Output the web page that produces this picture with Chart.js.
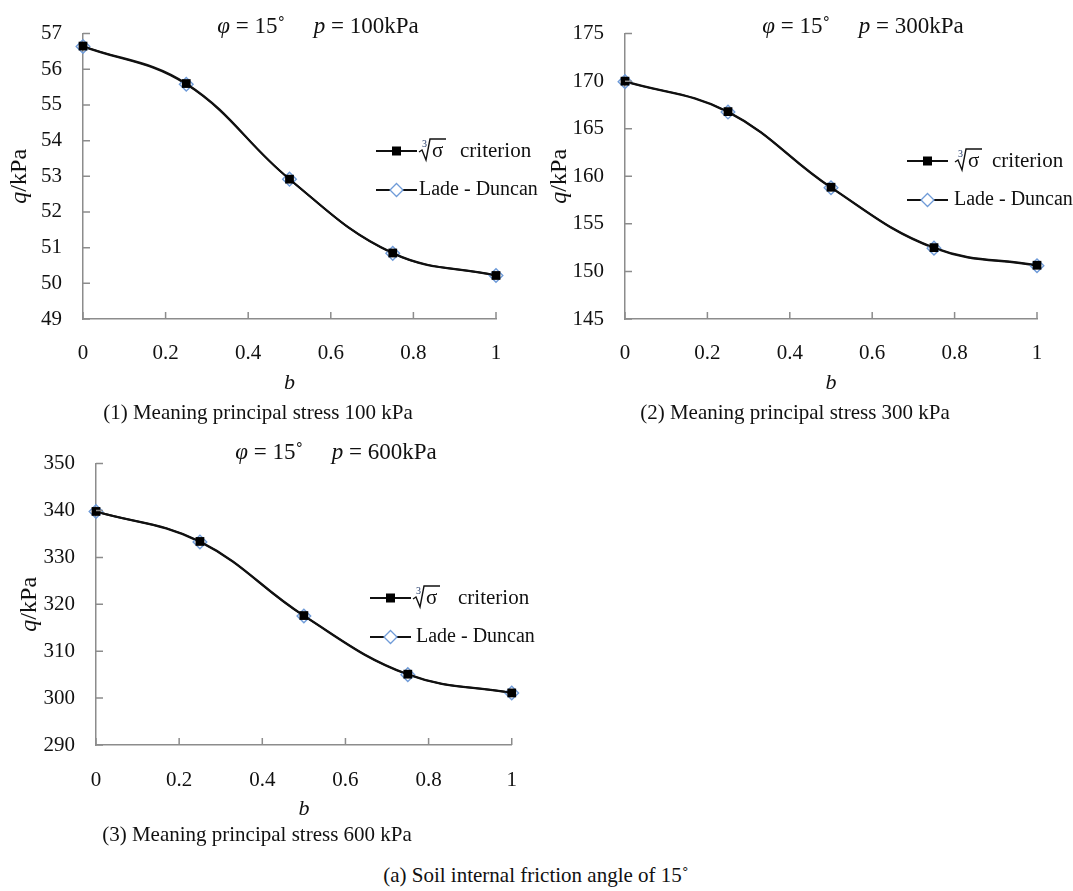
<!DOCTYPE html>
<html>
<head>
<meta charset="utf-8">
<script src="https://cdn.jsdelivr.net/npm/chart.js@4.4.0/dist/chart.umd.min.js"></script>
<style>
  body { margin: 0; background: #fff; width: 1073px; height: 891px; position: relative; overflow: hidden; font-family: "Liberation Serif", serif; color: #111; }
  canvas { position: absolute; }
  .cap { position: absolute; font-size: 21px; white-space: nowrap; transform: translate(-50%, -50%); }
</style>
</head>
<body>
<canvas id="chart100" width="540" height="430" style="left:0;top:0"></canvas>
<canvas id="chart300" width="533" height="430" style="left:540px;top:0"></canvas>
<canvas id="chart600" width="540" height="410" style="left:0;top:430px"></canvas>
<div class="cap" id="cap100" style="left:258px;top:412px"></div>
<div class="cap" id="cap300" style="left:795px;top:412px"></div>
<div class="cap" id="cap600" style="left:257px;top:834px"></div>
<div class="cap" id="capAll" style="left:536px;top:875px"></div>

<script>
// b values (intermediate principal stress parameter)
const bValues = [0, 0.25, 0.5, 0.75, 1];
const xTickValues = [0, 0.2, 0.4, 0.6, 0.8, 1];
const xTickLabels = ['0', '0.2', '0.4', '0.6', '0.8', '1'];

// q (kPa) for each mean principal stress
const q100Criterion = [56.65, 55.6, 52.92, 50.85, 50.22];
const q100LadeDuncan = [56.64, 55.58, 52.92, 50.84, 50.22];
const q300Criterion = [170.0, 166.8, 158.85, 152.5, 150.65];
const q300LadeDuncan = [169.95, 166.75, 158.8, 152.45, 150.6];
const q600Criterion = [339.8, 333.4, 317.6, 305.1, 301.1];
const q600LadeDuncan = [339.8, 333.3, 317.5, 305.0, 301.1];

const yTicks100 = [49, 50, 51, 52, 53, 54, 55, 56, 57];
const yTicks300 = [145, 150, 155, 160, 165, 170, 175];
const yTicks600 = [290, 300, 310, 320, 330, 340, 350];

const seriesNames = ['criterion', 'Lade - Duncan'];
const frictionAngle = 15;
const captions = {
  cap100: '(1) Meaning principal stress 100 kPa',
  cap300: '(2) Meaning principal stress 300 kPa',
  cap600: '(3) Meaning principal stress 600 kPa',
  capAll: '(a) Soil internal friction angle of 15\u02DA'
};

const AXIS_GREY = '#8c8c8c';
const DIAMOND_BLUE = '#6f9bd8';
const SERIF = '"Liberation Serif", "Times New Roman", serif';

for (const id in captions) document.getElementById(id).textContent = captions[id];

// draw text made of runs with different styles, centred or left aligned
function drawRuns(ctx, runs, x, y, size, align) {
  let total = 0;
  runs.forEach(r => {
    ctx.font = (r.italic ? 'italic ' : '') + size + 'px ' + SERIF;
    r.w = ctx.measureText(r.t).width;
    total += r.w;
  });
  let cx = align === 'center' ? x - total / 2 : x;
  ctx.textAlign = 'left';
  ctx.textBaseline = 'middle';
  runs.forEach(r => {
    ctx.font = (r.italic ? 'italic ' : '') + size + 'px ' + SERIF;
    ctx.fillText(r.t, cx, y);
    cx += r.w;
  });
}

function drawCubeRoot(ctx, x, cy) {
  ctx.save();
  ctx.strokeStyle = '#111';
  ctx.lineWidth = 1.4;
  ctx.beginPath();
  ctx.moveTo(x, cy + 1);
  ctx.lineTo(x + 3, cy - 1);
  ctx.lineTo(x + 7, cy + 9);
  ctx.lineTo(x + 11, cy - 12);
  ctx.lineTo(x + 27, cy - 12);
  ctx.stroke();
  ctx.fillStyle = '#1d3566';
  ctx.font = '10px ' + SERIF;
  ctx.textAlign = 'left';
  ctx.textBaseline = 'alphabetic';
  ctx.fillText('3', x + 3, cy - 4);
  ctx.fillStyle = '#111';
  ctx.font = '21px ' + SERIF;
  ctx.fillText('\u03C3', x + 13, cy + 6);
  ctx.restore();
}

const figureText = {
  id: 'figureText',
  afterDraw(chart, args, opts) {
    const ctx = chart.ctx;
    const { left, right, top, bottom } = chart.chartArea;
    const xs = chart.scales.x, ys = chart.scales.y;
    ctx.save();

    // tick marks point into the plot
    ctx.strokeStyle = AXIS_GREY;
    ctx.lineWidth = 1.5;
    ctx.beginPath();
    xs.ticks.forEach(t => {
      const px = xs.getPixelForValue(t.value);
      ctx.moveTo(px, bottom);
      ctx.lineTo(px, bottom - 7);
    });
    ys.ticks.forEach(t => {
      const py = ys.getPixelForValue(t.value);
      ctx.moveTo(left, py);
      ctx.lineTo(left + 7, py);
    });
    ctx.stroke();

    ctx.fillStyle = '#111';
    // header: friction angle and mean stress
    drawRuns(ctx, [
      { t: '\u03C6', italic: true },
      { t: ' = ' + frictionAngle + '\u02DA     ' },
      { t: 'p', italic: true },
      { t: ' = ' + opts.pressure + 'kPa' }
    ], opts.headerX, top - opts.headerGap, 23, 'center');

    // axis titles
    drawRuns(ctx, [{ t: 'b', italic: true }], (left + right) / 2, bottom + opts.bGap, 22, 'center');
    ctx.save();
    ctx.translate(opts.qX, (top + bottom) / 2);
    ctx.rotate(-Math.PI / 2);
    drawRuns(ctx, [{ t: 'q', italic: true }, { t: '/kPa' }], 0, 0, 24, 'center');
    ctx.restore();

    // legend
    const lg = opts.legend;
    ctx.strokeStyle = '#111';
    ctx.lineWidth = 1.8;
    [lg.row1, lg.row2].forEach(y => {
      ctx.beginPath();
      ctx.moveTo(lg.x0, y);
      ctx.lineTo(lg.x1, y);
      ctx.stroke();
    });
    const mx = (lg.x0 + lg.x1) / 2;
    ctx.fillStyle = '#000';
    ctx.fillRect(mx - 4.5, lg.row1 - 4.5, 9, 9);
    ctx.strokeStyle = DIAMOND_BLUE;
    ctx.lineWidth = 1.3;
    ctx.fillStyle = '#fff';
    ctx.beginPath();
    ctx.moveTo(mx, lg.row2 - 6.5);
    ctx.lineTo(mx + 6.5, lg.row2);
    ctx.lineTo(mx, lg.row2 + 6.5);
    ctx.lineTo(mx - 6.5, lg.row2);
    ctx.closePath();
    ctx.fill();
    ctx.stroke();
    drawCubeRoot(ctx, lg.rootX, lg.row1);
    ctx.fillStyle = '#111';
    drawRuns(ctx, [{ t: seriesNames[0] }], lg.critX, lg.row1, 21, 'left');
    drawRuns(ctx, [{ t: seriesNames[1] }], lg.ldX, lg.row2, 20, 'left');
    ctx.restore();
  }
};

function makeChart(id, crit, ld, yTicks, geo, textOpts) {
  return new Chart(document.getElementById(id), {
    type: 'line',
    data: {
      datasets: [
        {
          label: seriesNames[0],
          data: bValues.map((b, i) => ({ x: b, y: crit[i] })),
          borderColor: '#111',
          borderWidth: 2,
          pointStyle: 'rect',
          pointRadius: 6.2,
          pointBackgroundColor: '#000',
          pointBorderColor: '#000',
          pointBorderWidth: 0,
          tension: 0.4
        },
        {
          label: seriesNames[1],
          data: bValues.map((b, i) => ({ x: b, y: ld[i] })),
          borderColor: '#111',
          borderWidth: 2,
          pointStyle: 'rectRot',
          pointRadius: 6.8,
          pointBackgroundColor: 'rgba(255,255,255,0)',
          pointBorderColor: DIAMOND_BLUE,
          pointBorderWidth: 1.4,
          tension: 0.4
        }
      ]
    },
    options: {
      responsive: false,
      animation: false,
      clip: false,
      layout: { padding: { top: geo.top, right: geo.right, left: 0, bottom: 0 } },
      plugins: {
        legend: { display: false },
        tooltip: { enabled: false },
        figureText: textOpts
      },
      scales: {
        x: {
          type: 'linear',
          min: 0,
          max: 1,
          afterBuildTicks: s => { s.ticks = xTickValues.map(v => ({ value: v })); },
          afterFit: s => { s.height = geo.xHeight; },
          grid: { display: false, drawTicks: false },
          border: { display: true, color: AXIS_GREY, width: 1.5 },
          ticks: {
            padding: geo.xPad,
            color: '#111',
            font: { family: SERIF, size: 21 },
            maxRotation: 0,
            callback: (v, i) => xTickLabels[i]
          }
        },
        y: {
          type: 'linear',
          min: yTicks[0],
          max: yTicks[yTicks.length - 1],
          afterBuildTicks: s => { s.ticks = yTicks.map(v => ({ value: v })); },
          afterFit: s => { s.width = geo.yWidth; },
          grid: { display: false, drawTicks: false },
          border: { display: true, color: AXIS_GREY, width: 1.5 },
          ticks: {
            padding: 21,
            color: '#111',
            font: { family: SERIF, size: 21 },
            callback: v => String(v)
          }
        }
      }
    },
    plugins: [figureText]
  });
}

makeChart('chart100', q100Criterion, q100LadeDuncan, yTicks100,
  { top: 30, right: 44, xHeight: 111, yWidth: 83, xPad: 22 },
  { pressure: 100, headerX: 318, headerGap: 7, bGap: 64, qX: 20,
    legend: { x0: 376, x1: 417, row1: 151, row2: 190, rootX: 419, critX: 460, ldX: 419 } });

makeChart('chart300', q300Criterion, q300LadeDuncan, yTicks300,
  { top: 30, right: 36, xHeight: 111, yWidth: 85, xPad: 22 },
  { pressure: 300, headerX: 323, headerGap: 7, bGap: 64, qX: 20,
    legend: { x0: 367, x1: 408, row1: 161, row2: 200, rootX: 415, critX: 452, ldX: 414 } });

makeChart('chart600', q600Criterion, q600LadeDuncan, yTicks600,
  { top: 29, right: 26, xHeight: 95, yWidth: 96, xPad: 23 },
  { pressure: 600, headerX: 336, headerGap: 11, bGap: 64, qX: 30,
    legend: { x0: 370, x1: 411, row1: 168, row2: 207, rootX: 413, critX: 458, ldX: 416 } });
</script>
</body>
</html>
